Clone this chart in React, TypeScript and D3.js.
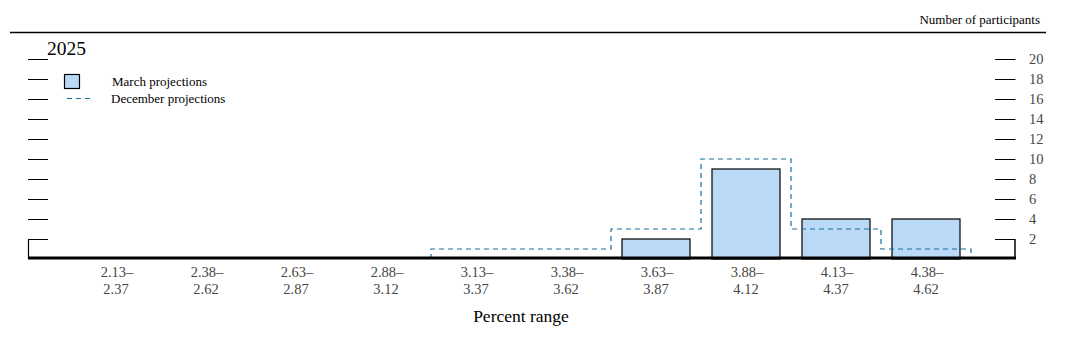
import React from "react";
import * as d3 from "d3";

const categories = ["2.13–2.37", "2.38–2.62", "2.63–2.87", "2.88–3.12", "3.13–3.37", "3.38–3.62", "3.63–3.87", "3.88–4.12", "4.13–4.37", "4.38–4.62"];
const marchValues = [0, 0, 0, 0, 0, 0, 2, 9, 4, 4];
const decemberValues = [0, 0, 0, 0, 1, 1, 3, 10, 3, 1];
const yTicks = [2, 4, 6, 8, 10, 12, 14, 16, 18, 20];
const yearLabel = "2025";

const W = 1065, H = 343;
const FONT = "'Liberation Serif', 'Times New Roman', serif";
const BAR_FILL = "#b9d9f6";
const DASH = "#17719e";
const LABEL = "#474747";

export default function App() {
  const x = d3.scaleBand<string>().domain(categories).range([71, 971]).padding(0);
  const y = d3.scaleLinear().domain([0, 20]).range([259, 59]);
  const barW = 68;
  const bw = x.bandwidth();

  const firstIdx = decemberValues.findIndex((v) => v > 0);
  let lastIdx = -1;
  decemberValues.forEach((v, i) => { if (v > 0) lastIdx = i; });
  const pts: [number, number][] = [];
  if (firstIdx >= 0) {
    pts.push([x(categories[firstIdx])!, y(0)]);
    for (let i = firstIdx; i <= lastIdx; i++) {
      const x0 = x(categories[i])!;
      pts.push([x0, y(decemberValues[i])]);
      pts.push([x0 + bw, y(decemberValues[i])]);
    }
    pts.push([x(categories[lastIdx])! + bw, y(0)]);
  }
  const stepPath = d3.line()(pts) || "";

  const left0 = 28.5, left1 = 48;
  const right0 = 995, right1 = 1015;

  return (
    <svg width={W} height={H} style={{ position: "absolute", left: 0, top: 0, background: "#fff" }} fontFamily={FONT}>
      <text x={1040} y={24} fontSize={13} textAnchor="end" fill="#000">Number of participants</text>
      <line x1={10} x2={1046} y1={32.5} y2={32.5} stroke="#000" strokeWidth={1.3} />

      <text x={47} y={55} fontSize={19.5} fill="#000">{yearLabel}</text>

      {yTicks.map((t) => (
        <line key={"l" + t} x1={left0 - 0.5} x2={left1} y1={Math.round(y(t)) + 0.5} y2={Math.round(y(t)) + 0.5} stroke="#000" strokeWidth={1} />
      ))}
      <line x1={left0} x2={left0} y1={Math.round(y(2)) + 0.5} y2={y(0)} stroke="#000" strokeWidth={1.2} />

      {yTicks.map((t) => (
        <g key={"r" + t}>
          <line x1={right0} x2={right1 + 0.5} y1={Math.round(y(t)) + 0.5} y2={Math.round(y(t)) + 0.5} stroke="#000" strokeWidth={1} />
          <text x={1029} y={y(t) + 5} fontSize={14.5} fill={LABEL}>{t}</text>
        </g>
      ))}
      <line x1={right1} x2={right1} y1={Math.round(y(2)) + 0.5} y2={y(0)} stroke="#000" strokeWidth={1.5} />

      {categories.map((c, i) =>
        marchValues[i] > 0 ? (
          <rect key={"b" + c} x={x(c)! + (bw - barW) / 2} y={y(marchValues[i])} width={barW} height={y(0) - y(marchValues[i])} fill={BAR_FILL} stroke="#000" strokeWidth={1.2} />
        ) : null
      )}

      <path d={stepPath} fill="none" stroke={DASH} strokeWidth={1.2} strokeDasharray="5,4" />

      <line x1={28} x2={1016} y1={258} y2={258} stroke="#000" strokeWidth={3} />

      {categories.map((c) => {
        const [a, b] = c.split("–");
        const cx = x(c)! + bw / 2;
        return (
          <g key={"t" + c}>
            <text x={cx + 1} y={277} fontSize={14.5} textAnchor="middle" fill={LABEL}>{a + "–"}</text>
            <text x={cx} y={294} fontSize={14.5} textAnchor="middle" fill={LABEL}>{b}</text>
          </g>
        );
      })}

      <text x={521} y={322} fontSize={17.5} textAnchor="middle" fill="#000">Percent range</text>

      <rect x={64.5} y={74.5} width={15} height={14} fill={BAR_FILL} stroke="#000" strokeWidth={1.2} />
      <text x={112} y={86} fontSize={13} fill="#000">March projections</text>
      <line x1={67} x2={92} y1={98.5} y2={98.5} stroke={DASH} strokeWidth={1.2} strokeDasharray="5,4" />
      <text x={111} y={103} fontSize={13} fill="#000">December projections</text>
    </svg>
  );
}
